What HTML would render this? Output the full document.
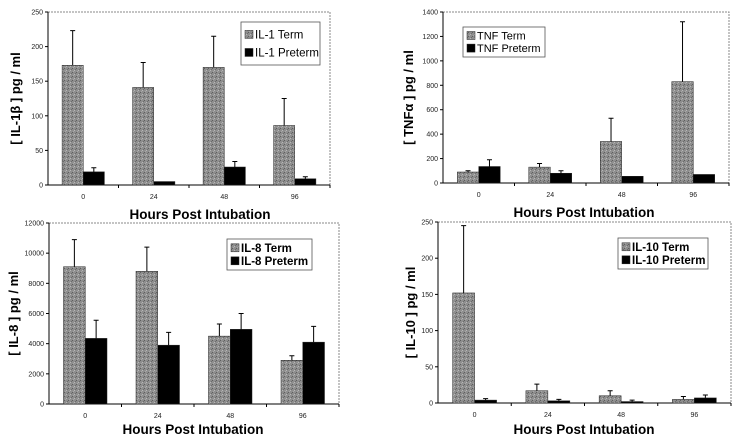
<!DOCTYPE html>
<html><head><meta charset="utf-8"><style>
html,body{margin:0;padding:0;background:#fff;}
svg{display:block;font-family:"Liberation Sans",Arial,sans-serif;}
</style></head><body>
<svg id="chart" width="742" height="442" viewBox="0 0 742 442" xmlns="http://www.w3.org/2000/svg">
<defs>
<pattern id="speckle" width="4" height="4" patternUnits="userSpaceOnUse">
<rect width="4" height="4" fill="#8e8e8e"/>
<rect x="0" y="0" width="1" height="1" fill="#5e5e5e"/>
<rect x="2" y="2" width="1" height="1" fill="#b8b8b8"/>
<rect x="3" y="1" width="1" height="1" fill="#6c6c6c"/>
<rect x="1" y="3" width="1" height="1" fill="#a8a8a8"/>
</pattern>
</defs>
</svg>
<script>
// shared categories
const categories = ["0","24","48","96"];

// Panel A: IL-1
const il1Term = [173,141,170,86];
const il1TermErr = [223,177,215,125];
const il1Pre = [19,5,26,9];
const il1PreErr = [25,5,34,12];
const il1Ticks = [0,50,100,150,200,250];

// Panel B: TNF
const tnfTerm = [90,130,340,830];
const tnfTermErr = [100,160,530,1320];
const tnfPre = [135,80,55,70];
const tnfPreErr = [190,100,55,70];
const tnfTicks = [0,200,400,600,800,1000,1200,1400];

// Panel C: IL-8
const il8Term = [9100,8800,4500,2900];
const il8TermErr = [10900,10400,5300,3200];
const il8Pre = [4350,3900,4950,4100];
const il8PreErr = [5550,4750,6000,5150];
const il8Ticks = [0,2000,4000,6000,8000,10000,12000];

// Panel D: IL-10
const il10Term = [152,17,10,5];
const il10TermErr = [245,26,17,9];
const il10Pre = [4,3,2,7];
const il10PreErr = [6,5,4,11];
const il10Ticks = [0,50,100,150,200,250];

const svg = document.getElementById('chart');
const NS = 'http://www.w3.org/2000/svg';
function mk(tag, attrs, parent){
  const e = document.createElementNS(NS, tag);
  for (const k in attrs) e.setAttribute(k, attrs[k]);
  (parent||svg).appendChild(e);
  return e;
}

function panel(p){
  const g = mk('g', {});
  
  
  const maxV = p.ticks[p.ticks.length-1];
  const y = v => p.y1 - (v/maxV)*(p.y1-p.y0);
  const cw = (p.x1-p.x0)/categories.length;
  const xc = i => p.x0 + cw*(i+0.5);
  const bw = cw*0.3;
  const fr = mk('path', {d:`M${p.x0},${p.y0}H${p.x1}V${p.y1}`, fill:'none', stroke:'#888', 'stroke-width':1, 'stroke-dasharray':'2,1'}, g);
  
  
  const ax = mk('path', {d:`M${p.x0},${p.y0}V${p.y1}H${p.x1}`, fill:'none', stroke:'#000', 'stroke-width':1}, g);
  
  
  p.ticks.forEach(t=>{
    mk('line', {x1:p.x0-3, x2:p.x0, y1:y(t), y2:y(t), stroke:'#000'}, g);
    const tx = mk('text', {x:p.x0-5, y:y(t)+2.5, 'font-size':7, 'text-anchor':'end', fill:'#222'}, g);
    tx.textContent = t;
    
    
  });
  categories.forEach((c,i)=>{
    mk('line', {x1:p.x0+cw*(i+1), x2:p.x0+cw*(i+1), y1:p.y1, y2:p.y1+3, stroke:'#000'}, g);
    const tx = mk('text', {x:xc(i), y:p.y1+14, 'font-size':7, 'text-anchor':'middle', fill:'#222'}, g);
    tx.textContent = c;
    
    
  });
  function bars(vals, errs, fill, offset, nm){
    vals.forEach((v,i)=>{
      const bx = xc(i)+offset;
      const r = mk('rect', {x:bx, y:y(v), width:bw, height:p.y1-y(v), fill:fill, stroke:'#222', 'stroke-width':0.5}, g);
      
      
      const e = errs[i];
      if (e > v){
        const m = bx+bw/2;
        const eb = mk('path', {d:`M${m},${y(v)}V${y(e)}M${m-2.5},${y(e)}H${m+2.5}`, stroke:'#000', 'stroke-width':1, fill:'none'}, g);
        
        
      }
    });
  }
  bars(p.term, p.termErr, 'url(#speckle)', -bw, 'term');
  bars(p.pre, p.preErr, '#000', 0, 'preterm');
  const yl = mk('text', {x:p.ylx, y:(p.y0+p.y1)/2, 'font-size':13, 'font-weight':'bold', 'text-anchor':'middle', transform:`rotate(-90 ${p.ylx} ${(p.y0+p.y1)/2})`}, g);
  yl.textContent = p.ylabel;
  
  
  const xl = mk('text', {x:p.xtx, y:p.xty, 'font-size':13.5, 'font-weight':'bold', 'text-anchor':'middle'}, g);
  xl.textContent = 'Hours Post Intubation';
  
  
  const L = p.leg;
  const lg = mk('g', {}, g);
  
  
  mk('rect', {x:L.x, y:L.y, width:L.w, height:L.h, fill:'#fff', stroke:'#555', 'stroke-width':0.8}, lg);
  [[p.termName,'url(#speckle)'],[p.preName,'#000']].forEach((it,k)=>{
    const ly = L.y + L.h*(k===0?0.3:0.72);
    mk('rect', {x:L.x+4, y:ly-4.5, width:8, height:8, fill:it[1], stroke:'#222', 'stroke-width':0.5}, lg);
    const t = mk('text', {x:L.x+14, y:ly+3.5, 'font-size':L.fs, 'font-weight':L.bold?'bold':'normal'}, lg);
    t.textContent = it[0];
    
    
  });
}

panel({name:'il1-panel', x0:48, x1:330, y0:12, y1:185, ticks:il1Ticks, term:il1Term, termErr:il1TermErr, pre:il1Pre, preErr:il1PreErr,
  ylabel:'[ IL-1β ] pg / ml', ylx:20, xtx:200, xty:219, termName:'IL-1 Term', preName:'IL-1 Preterm',
  leg:{x:241,y:22,w:79,h:43,fs:11.5,bold:false}});
panel({name:'tnf-panel', x0:443, x1:729, y0:12, y1:183, ticks:tnfTicks, term:tnfTerm, termErr:tnfTermErr, pre:tnfPre, preErr:tnfPreErr,
  ylabel:'[ TNFα ] pg / ml', ylx:413, xtx:584, xty:217, termName:'TNF Term', preName:'TNF Preterm',
  leg:{x:463,y:27,w:82,h:30,fs:11,bold:false}});
panel({name:'il8-panel', x0:49, x1:339, y0:223, y1:404, ticks:il8Ticks, term:il8Term, termErr:il8TermErr, pre:il8Pre, preErr:il8PreErr,
  ylabel:'[ IL-8 ] pg / ml', ylx:18, xtx:193, xty:434, termName:'IL-8 Term', preName:'IL-8 Preterm',
  leg:{x:227,y:239,w:85,h:31,fs:11.5,bold:true}});
panel({name:'il10-panel', x0:438, x1:731, y0:222, y1:403, ticks:il10Ticks, term:il10Term, termErr:il10TermErr, pre:il10Pre, preErr:il10PreErr,
  ylabel:'[ IL-10 ] pg / ml', ylx:415, xtx:584, xty:434, termName:'IL-10 Term', preName:'IL-10 Preterm',
  leg:{x:618,y:238,w:90,h:31,fs:11.5,bold:true}});
</script>
</body></html>
